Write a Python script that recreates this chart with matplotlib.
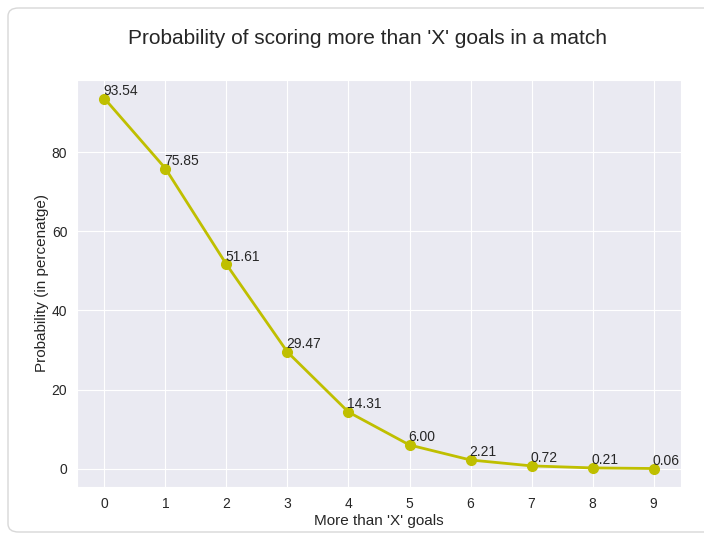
import matplotlib
matplotlib.use("Agg")
import matplotlib.pyplot as plt
import seaborn as sns
from matplotlib.patches import FancyBboxPatch

goals = [0, 1, 2, 3, 4, 5, 6, 7, 8, 9]
probability = [93.54, 75.85, 51.61, 29.47, 14.31, 6.00, 2.21, 0.72, 0.21, 0.06]

sns.set_style("darkgrid")
plt.rcParams['font.family'] = ['Liberation Sans', 'DejaVu Sans']

fig = plt.figure(figsize=(7.04, 5.4), dpi=100)
ax = fig.add_axes([77/704, 1 - 487/540, (681-77)/704, (487-80)/540])

border = FancyBboxPatch((8/704, 8/540), 1.2, 1 - 16/540,
                        boxstyle="round,pad=0,rounding_size=0.015",
                        transform=fig.transFigure, fill=False,
                        edgecolor="#d8d8d8", linewidth=1.0, zorder=0)
fig.patches.append(border)

ax.plot(goals, probability, color='y', marker='o', linewidth=2, markersize=7)
for g, p in zip(goals, probability):
    ax.text(g - 0.02, p + 1.0, f"{p:.2f}", fontsize=10, color="#262626",
            ha='left', va='baseline')

ax.set_xticks(goals)
ax.set_yticks([0, 20, 40, 60, 80])
ax.tick_params(labelsize=10, colors="#262626")
ax.set_xlabel("More than 'X' goals", fontsize=11, color="#262626", labelpad=2)
ax.set_ylabel("Probability (in percenatge)", fontsize=11, color="#262626", labelpad=2)
fig.text(368/704, 1 - 38/540, "Probability of scoring more than 'X' goals in a match",
         ha='center', va='center', fontsize=15, color="#262626")

fig.savefig("out.png", dpi=100)
